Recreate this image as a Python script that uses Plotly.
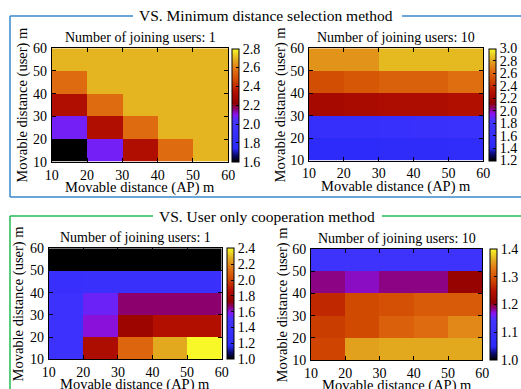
import plotly.graph_objects as go

# ---- data ----
edges = [10, 20, 30, 40, 50, 60]
axis_ticks = [10, 20, 30, 40, 50, 60]

# rows: user distance bins 10-20 ... 50-60 ; cols: AP distance bins 10-20 ... 50-60
z_min_1 = [
    [1.60, 2.08, 2.33, 2.56, 2.70],
    [2.08, 2.33, 2.56, 2.70, 2.70],
    [2.33, 2.56, 2.70, 2.70, 2.70],
    [2.56, 2.70, 2.70, 2.70, 2.70],
    [2.70, 2.70, 2.70, 2.70, 2.70],
]
z_min_10 = [
    [1.45, 1.45, 1.50, 1.50, 1.52],
    [1.62, 1.62, 1.63, 1.66, 1.70],
    [2.24, 2.26, 2.28, 2.28, 2.30],
    [2.52, 2.56, 2.60, 2.60, 2.65],
    [2.76, 2.76, 2.86, 2.86, 2.86],
]
z_user_1 = [
    [1.40, 1.84, 2.10, 2.26, 2.40],
    [1.40, 1.60, 1.78, 1.86, 1.86],
    [1.40, 1.55, 1.66, 1.66, 1.66],
    [1.35, 1.38, 1.38, 1.38, 1.38],
    [1.00, 1.00, 1.00, 1.00, 1.00],
]
z_user_10 = [
    [1.285, 1.355, 1.360, 1.360, 1.360],
    [1.280, 1.290, 1.310, 1.320, 1.340],
    [1.265, 1.290, 1.295, 1.305, 1.305],
    [1.185, 1.175, 1.185, 1.185, 1.215],
    [1.120, 1.120, 1.120, 1.120, 1.120],
]
ranges = [(1.6, 2.8), (1.2, 3.0), (1.0, 2.4), (1.0, 1.4)]
cb_ticks = [
    [1.6, 1.8, 2.0, 2.2, 2.4, 2.6, 2.8],
    [1.2, 1.4, 1.6, 1.8, 2.0, 2.2, 2.4, 2.6, 2.8, 3.0],
    [1.0, 1.2, 1.4, 1.6, 1.8, 2.0, 2.2, 2.4],
    [1.0, 1.1, 1.2, 1.3, 1.4],
]
subtitles = ["Number of joining users: 1", "Number of joining users: 10",
             "Number of joining users: 1", "Number of joining users: 10"]
group_titles = ["VS. Minimum distance selection method", "VS. User only cooperation method"]
xlabel = "Movable distance (AP) m"
ylabel = "Movable distance (user) m"

colorscale = [
    [0.00, "#000000"],
    [0.06, "#0a0a70"],
    [0.12, "#2a2af8"],
    [0.36, "#4434ff"],
    [0.42, "#8a14f0"],
    [0.47, "#8c0070"],
    [0.52, "#900000"],
    [0.62, "#b41000"],
    [0.72, "#d04800"],
    [0.82, "#e27414"],
    [0.91, "#e2b020"],
    [1.00, "#f8f828"],
]

W, H = 521, 389
FONT = "Liberation Serif"

# pixel boxes: (x0, x1, y0, y1, cbx)
boxes = [
    (51.7, 228.3, 48.3, 161.7, 232.0),
    (309.0, 483.3, 48.3, 160.5, 489.3),
    (48.7, 221.7, 248.3, 359.3, 226.7),
    (311.0, 482.3, 249.0, 360.0, 490.0),
]
zs = [z_min_1, z_min_10, z_user_1, z_user_10]

fig = go.Figure()
annotations = []
for i, (z, (x0, x1, y0, y1, cbx)) in enumerate(zip(zs, boxes)):
    xa = "x" if i == 0 else f"x{i+1}"
    ya = "y" if i == 0 else f"y{i+1}"
    fig.add_trace(go.Heatmap(
        x=edges, y=edges, z=z, xaxis=xa, yaxis=ya,
        colorscale=colorscale, zmin=ranges[i][0], zmax=ranges[i][1],
        colorbar=dict(
            x=cbx / W, xanchor="left", xref="paper",
            y=1 - y1 / H, yanchor="bottom", yref="paper",
            len=(y1 - y0) / H, lenmode="fraction",
            thickness=7, thicknessmode="pixels",
            outlinecolor="black", outlinewidth=1,
            tickvals=cb_ticks[i], tickformat=".1f",
            ticks="inside", ticklen=3, tickcolor="black",
            tickfont=dict(family=FONT, size=14, color="black"),
            xpad=0, ypad=0,
        ),
        hoverinfo="skip",
    ))
    dom_x = [x0 / W, x1 / W]
    dom_y = [1 - y1 / H, 1 - y0 / H]
    axcommon = dict(range=[10, 60], tickvals=axis_ticks, ticks="inside", ticklen=4,
                    tickcolor="black", showline=True, linecolor="black", linewidth=1,
                    mirror="ticks", showgrid=False, zeroline=False,
                    tickfont=dict(family=FONT, size=14, color="black"))
    key_x = "xaxis" if i == 0 else f"xaxis{i+1}"
    key_y = "yaxis" if i == 0 else f"yaxis{i+1}"
    fig.update_layout({
        key_x: dict(domain=dom_x, anchor=ya, ticklabelstandoff=0, **axcommon),
        key_y: dict(domain=dom_y, anchor=xa, ticklabelstandoff=1, **axcommon),
    })
    cx = (x0 + x1) / 2
    cy = (y0 + y1) / 2
    annotations.append(dict(x=cx / W, y=1 - (y0 - 11) / H, xref="paper", yref="paper",
                            text=subtitles[i], showarrow=False, xanchor="center", yanchor="middle",
                            font=dict(family=FONT, size=14, color="black")))
    annotations.append(dict(x=cx / W, y=1 - (y1 + 25.5) / H, xref="paper", yref="paper",
                            text=xlabel, showarrow=False, xanchor="center", yanchor="middle",
                            font=dict(family=FONT, size=14.5, color="black")))
    annotations.append(dict(x=(x0 - 30) / W if i % 2 == 0 else (x0 - 29) / W,
                            y=1 - cy / H, xref="paper", yref="paper",
                            text=ylabel, showarrow=False, textangle=-90,
                            xanchor="center", yanchor="middle",
                            font=dict(family=FONT, size=14.5, color="black")))

# group frames
blue = "#3a88cc"
green = "#22bb55"
annotations.append(dict(x=265.5 / W, y=1 - 16 / H, xref="paper", yref="paper", text=group_titles[0],
                        showarrow=False, xanchor="center", yanchor="middle",
                        font=dict(family=FONT, size=15.5, color="black")))
annotations.append(dict(x=266.5 / W, y=1 - 216 / H, xref="paper", yref="paper", text=group_titles[1],
                        showarrow=False, xanchor="center", yanchor="middle",
                        font=dict(family=FONT, size=15.5, color="black")))

def seg(xa0, ya0, xa1, ya1, color):
    return dict(type="line", xref="paper", yref="paper",
                x0=xa0 / W, y0=1 - ya0 / H, x1=xa1 / W, y1=1 - ya1 / H,
                line=dict(color=color, width=1.5))

shapes = [
    seg(10, 16, 133, 16, blue), seg(402, 16, 530, 16, blue),
    seg(10, 16, 10, 197, blue), seg(10, 197, 530, 197, blue),
    seg(10, 216, 153, 216, green), seg(382, 216, 530, 216, green),
    seg(10, 216, 10, 400, green),
]

fig.update_layout(
    width=W, height=H, margin=dict(l=0, r=0, t=0, b=0, autoexpand=False),
    paper_bgcolor="white", plot_bgcolor="white",
    annotations=annotations, shapes=shapes, showlegend=False,
    font=dict(family=FONT, size=14, color="black"),
)
fig.write_html("out.html", config={"displayModeBar": False},
               post_script="document.body.style.margin='0';document.body.style.overflow='hidden';")
